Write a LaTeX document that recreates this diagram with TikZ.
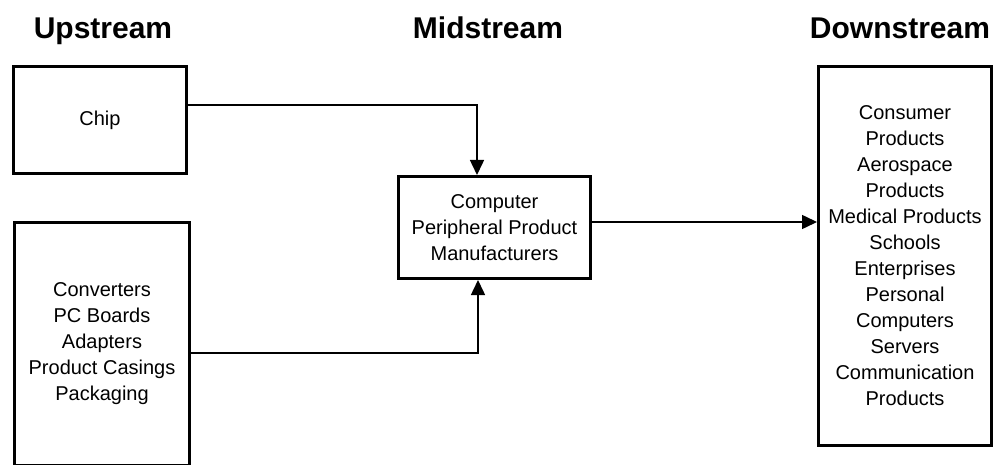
\documentclass[tikz,border=0pt]{standalone}
\usepackage{fontspec}
\setmainfont{Liberation Sans}
\usetikzlibrary{arrows.meta}
\begin{document}
\begin{tikzpicture}[x=1pt,y=-1pt,
  box/.style={draw,line width=3pt,inner sep=0pt,align=center,font=\fontsize{20}{26}\selectfont},
  head/.style={font=\fontsize{30}{36}\selectfont\bfseries,anchor=base,inner sep=0pt},
  conn/.style={line width=1.5pt,-{Triangle[width=14pt,length=15pt]}}]
\useasboundingbox (0,0) rectangle (998,465);
\node[head] (up) at (103,39) {Upstream};
\node[head] (midh) at (488,39) {Midstream};
\node[head] (down) at (900,39) {Downstream};
\node[box,minimum width=173pt,minimum height=107pt] (chip) at (100,120) {Chip};
\node[box,minimum width=175pt,minimum height=243pt] (low) at (102,344) {Converters\\PC Boards\\Adapters\\Product Casings\\Packaging};
\node[box,minimum width=192pt,minimum height=102pt] (mid) at (494.5,227.5) {Computer\\Peripheral Product\\Manufacturers};
\node[box,minimum width=173pt,minimum height=379pt] (right) at (905,256) {Consumer\\Products\\Aerospace\\Products\\Medical Products\\Schools\\Enterprises\\Personal\\Computers\\Servers\\Communication\\Products};
\draw[conn] ([yshift=15pt]chip.east) -| ([xshift=-17.5pt]mid.north);
\draw[conn] ([yshift=-9pt]low.east) -| ([xshift=-16.5pt]mid.south);
\draw[conn] ([yshift=5.5pt]mid.east) -- ([yshift=5.5pt]mid.east -| right.west);
\end{tikzpicture}
\end{document}
